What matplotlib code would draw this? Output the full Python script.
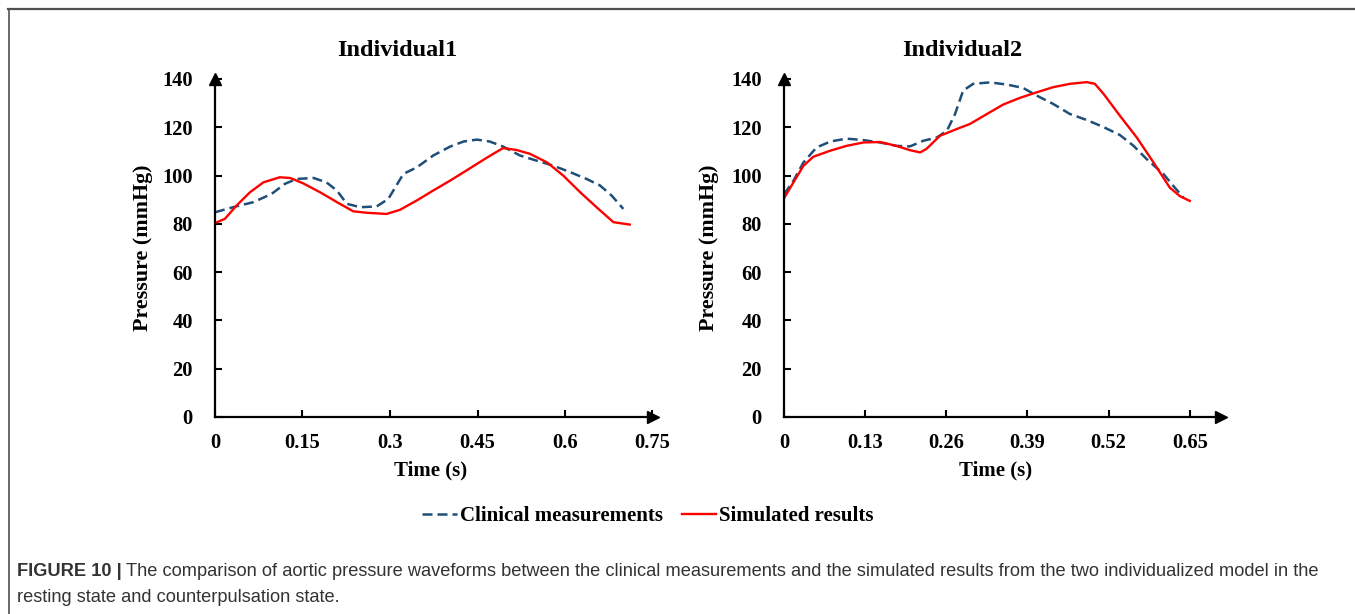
import matplotlib
matplotlib.use("Agg")
import matplotlib.pyplot as plt
from matplotlib.lines import Line2D

# ---------------- data ----------------
t1_clin = [0, 0.031, 0.066, 0.097, 0.12, 0.14, 0.169, 0.191, 0.209, 0.226, 0.249, 0.277, 0.297,
           0.311, 0.323, 0.346, 0.374, 0.403, 0.426, 0.449, 0.471, 0.494, 0.523, 0.551, 0.58,
           0.609, 0.637, 0.66, 0.68, 0.70]
p1_clin = [84.8, 86.9, 89.0, 92.4, 96.6, 98.6, 99.0, 97.2, 93.8, 88.3, 86.9, 87.2, 90.3,
           95.9, 100.7, 103.4, 108.3, 112.0, 114.1, 114.9, 114.1, 112.0, 108.3, 106.2, 104.1,
           101.4, 98.6, 95.9, 91.7, 86.2]
t1_sim = [0, 0.017, 0.037, 0.06, 0.083, 0.111, 0.129, 0.151, 0.18, 0.209, 0.237, 0.26, 0.294,
          0.317, 0.346, 0.374, 0.403, 0.431, 0.46, 0.477, 0.494, 0.517, 0.54, 0.569, 0.597,
          0.626, 0.654, 0.683, 0.694, 0.711]
p1_sim = [80.3, 82.1, 87.6, 93.1, 97.2, 99.3, 99.0, 96.8, 93.1, 89.0, 85.2, 84.6, 84.1,
          85.8, 89.7, 93.8, 97.9, 102.1, 106.5, 109.0, 111.4, 110.6, 109.0, 105.5, 100.0,
          93.1, 86.9, 80.7, 80.3, 79.7]

t2_clin = [0, 0.015, 0.031, 0.052, 0.074, 0.10, 0.127, 0.154, 0.18, 0.202, 0.223, 0.245, 0.261,
           0.274, 0.287, 0.303, 0.33, 0.357, 0.383, 0.405, 0.431, 0.458, 0.485, 0.511, 0.538,
           0.56, 0.581, 0.608, 0.626, 0.64]
p2_clin = [92.2, 97.8, 105.4, 111.6, 114.1, 115.3, 114.7, 113.7, 112.3, 112.1, 114.4, 115.8, 118.6,
           125.5, 135.2, 138.0, 138.6, 137.7, 136.3, 133.1, 129.7, 125.5, 123.0, 120.2, 116.8,
           112.3, 106.8, 100.6, 95.0, 90.8]
t2_sim = [0, 0.015, 0.031, 0.047, 0.074, 0.10, 0.127, 0.154, 0.18, 0.202, 0.218, 0.228, 0.25,
          0.277, 0.298, 0.325, 0.351, 0.378, 0.405, 0.431, 0.458, 0.485, 0.498, 0.512, 0.538,
          0.565, 0.592, 0.618, 0.634, 0.65]
p2_sim = [90.6, 97.1, 104.0, 107.8, 110.3, 112.3, 113.7, 113.9, 112.3, 110.5, 109.6, 111.0, 116.5,
          119.3, 121.4, 125.5, 129.4, 132.2, 134.5, 136.6, 138.0, 138.7, 138.0, 133.8, 124.8,
          115.8, 105.4, 95.0, 91.5, 89.5]

yticks = [0, 20, 40, 60, 80, 100, 120, 140]
xticks1 = [0, 0.15, 0.3, 0.45, 0.6, 0.75]
xticklabels1 = ["0", "0.15", "0.3", "0.45", "0.6", "0.75"]
xticks2 = [0, 0.13, 0.26, 0.39, 0.52, 0.65]
xticklabels2 = ["0", "0.13", "0.26", "0.39", "0.52", "0.65"]

titles = ["Individual1", "Individual2"]
series_names = ["Clinical measurements", "Simulated results"]

# ---------------- style ----------------
W, H = 1355, 614
plt.rcParams["font.family"] = ["Liberation Serif", "DejaVu Serif"]
plt.rcParams["font.weight"] = "bold"

fig = plt.figure(figsize=(W / 100, H / 100), dpi=100)

clin_color = "#1F4E79"
sim_color = "#FF0000"
clin_dash = (4, 2)


def px_rect(x0, x1, ytop, ybot):
    return [x0 / W, 1 - ybot / H, (x1 - x0) / W, (ybot - ytop) / H]


ax1 = fig.add_axes(px_rect(215, 652.5, 79, 417))
ax2 = fig.add_axes(px_rect(784, 1221, 79, 417))

configs = [
    (ax1, t1_clin, p1_clin, t1_sim, p1_sim, xticks1, xticklabels1, 0.75, titles[0], 397, 431, 143),
    (ax2, t2_clin, p2_clin, t2_sim, p2_sim, xticks2, xticklabels2, 0.70, titles[1], 962, 996, 709),
]

for ax, tc, pc, ts, ps, xt, xtl, xmax, title, title_x, xlab_x, ylab_x in configs:
    ax.plot(tc, pc, color=clin_color, lw=1.8, dashes=clin_dash, label=series_names[0])
    ax.plot(ts, ps, color=sim_color, lw=1.7, label=series_names[1])
    ax.set_xlim(0, xmax)
    ax.set_ylim(0, 140)
    for s in ["top", "right"]:
        ax.spines[s].set_visible(False)
    for s in ["left", "bottom"]:
        ax.spines[s].set_linewidth(1.6)
        ax.spines[s].set_color("black")
    ax.set_xticks(xt)
    ax.set_xticklabels(xtl)
    ax.set_yticks(yticks)
    ax.tick_params(axis="both", direction="in", length=5, width=1.5, labelsize=14.8)
    ax.tick_params(axis="x", pad=11.5)
    ax.tick_params(axis="y", pad=16)
    for lab in ax.get_xticklabels() + ax.get_yticklabels():
        lab.set_fontweight("bold")
    # arrows
    ax.plot(1, 0, marker=">", color="black", ms=8, transform=ax.transAxes, clip_on=False)
    ax.plot(0, 1, marker="^", color="black", ms=8, transform=ax.transAxes, clip_on=False)
    # title & labels
    fig.text(title_x / W, 1 - 51 / H, title, ha="center", va="center",
             fontsize=17.5, fontweight="bold")
    fig.text(xlab_x / W, 1 - 470 / H, "Time (s)", ha="center", va="center",
             fontsize=15, fontweight="bold")
    fig.text(ylab_x / W, 1 - 248 / H, "Pressure (mmHg)", rotation=90, ha="center",
             va="center", fontsize=15.8, fontweight="bold")

handles = [Line2D([], [], color=clin_color, lw=1.8, dashes=clin_dash),
           Line2D([], [], color=sim_color, lw=1.7)]
fig.legend(handles, series_names, loc="center", bbox_to_anchor=(648 / W, 1 - 516 / H),
           ncol=2, frameon=False, prop={"weight": "bold", "size": 15},
           handlelength=1.65, handletextpad=0.15, columnspacing=0.9)

# frame lines
fig.add_artist(Line2D([8 / W, 1], [1 - 8.5 / H, 1 - 8.5 / H], transform=fig.transFigure,
                      color="#505050", lw=1.6))
fig.add_artist(Line2D([8.5 / W, 8.5 / W], [0, 1 - 8.5 / H], transform=fig.transFigure,
                      color="#505050", lw=1.2))

# caption
renderer = fig.canvas.get_renderer()
cap_font = ["Liberation Sans", "DejaVu Sans"]
cap_size = 13.15
t_bold = fig.text(17 / W, 1 - 572 / H, "FIGURE 10 |", family=cap_font, fontweight="bold",
                  fontsize=cap_size, color="#333333", ha="left", va="center")
bb = t_bold.get_window_extent(renderer)
fig.text(bb.x1 / W + 4 / W, 1 - 572 / H,
         "The comparison of aortic pressure waveforms between the clinical measurements and the "
         "simulated results from the two individualized model in the",
         family=cap_font, fontweight="normal", fontsize=cap_size, color="#333333",
         ha="left", va="center")
fig.text(17 / W, 1 - 597 / H, "resting state and counterpulsation state.",
         family=cap_font, fontweight="normal", fontsize=cap_size, color="#333333",
         ha="left", va="center")

fig.savefig("out.png", dpi=100)
